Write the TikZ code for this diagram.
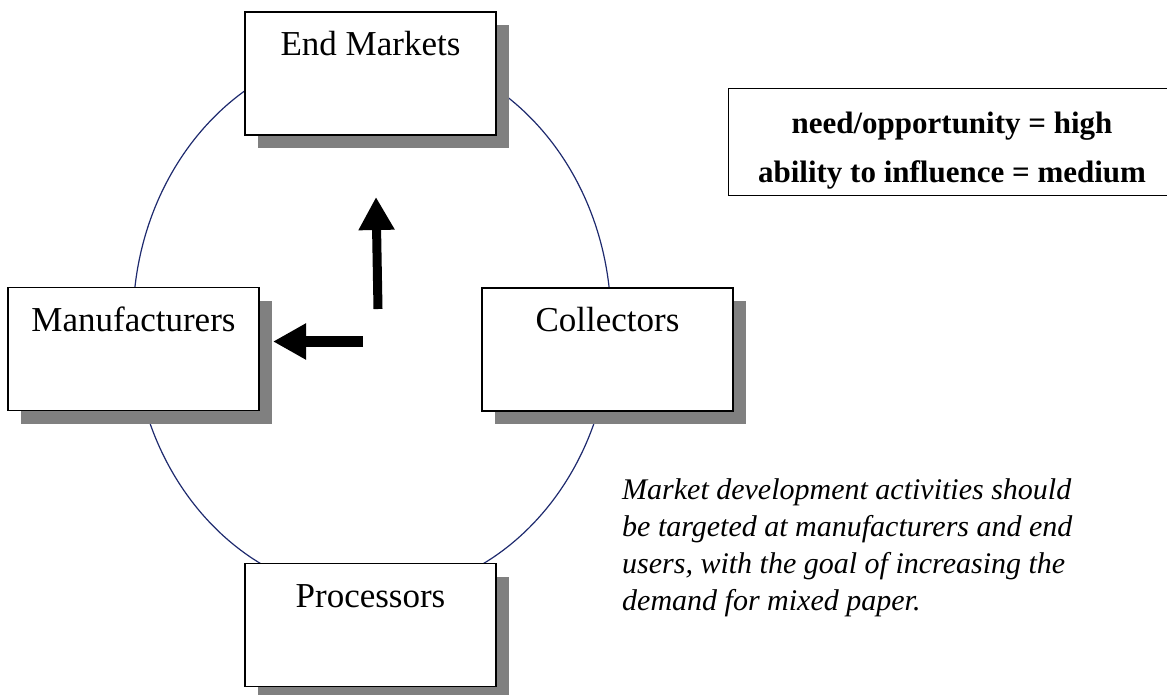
\documentclass[tikz,border=0pt]{standalone}
\usepackage{fontspec}
\setmainfont{Liberation Serif}
\usetikzlibrary{shapes.geometric,shadows,arrows.meta}
\definecolor{ringblue}{RGB}{30,42,110}
\definecolor{shadegray}{RGB}{128,128,128}
\begin{document}
\begin{tikzpicture}[x=1pt,y=-1pt,
  stagebox/.style={draw=black, line width=1.6pt, fill=white,
    minimum width=251pt, minimum height=123pt, inner sep=0pt,
    text height=43.5pt, text depth=79.5pt,
    font=\fontsize{35}{40}\selectfont,
    general shadow={fill=shadegray, shadow xshift=13pt, shadow yshift=-13pt}},
  fatarrow/.style={line width=#1, -{Triangle[length=33pt,width=34pt]}},
  ratingtext/.style={anchor=base, font=\fontsize{31}{36}\bfseries\selectfont},
]
\useasboundingbox (0,0) rectangle (1167,694);

% cycle ring behind the stages
\node[draw=ringblue, line width=1.2pt, ellipse, minimum width=478pt,
      minimum height=546pt, inner sep=0pt] (ring) at (372,322) {};

% the four stages
\node[stagebox] (endmk) at (370.5,73.5) {End Markets};
\node[stagebox] (manuf) at (133.5,349) {Manufacturers};
\node[stagebox] (coll)  at (607.5,349.5) {Collectors};
\node[stagebox] (proc)  at (370.5,625) {Processors};

% direction of effort
\coordinate (upS) at (378,309);
\coordinate (upE) at (376,197);
\coordinate (ltS) at (363,341.5);
\coordinate (ltE) at (273,341.5);
\draw[fatarrow=9pt] (upS) -- (upE);
\draw[fatarrow=11pt] (ltS) -- (ltE);

% rating box
\node[draw=black, line width=1pt, minimum width=448pt, minimum height=107pt,
      inner sep=0pt] (rating) at (952,141.5) {};
\node[ratingtext] (need) at (952,133) {need/opportunity = high};
\node[ratingtext] (abil) at (952,182) {ability to influence = medium};

% recommendation (base anchor sits on the last line)
\node[anchor=base west, align=left, inner sep=0pt,
      font=\fontsize{30}{37}\itshape\selectfont] (note) at (622,610)
  {Market development activities should\\
   be targeted at manufacturers and end\\
   users, with the goal of increasing the\\
   demand for mixed paper.};
\end{tikzpicture}
\end{document}
